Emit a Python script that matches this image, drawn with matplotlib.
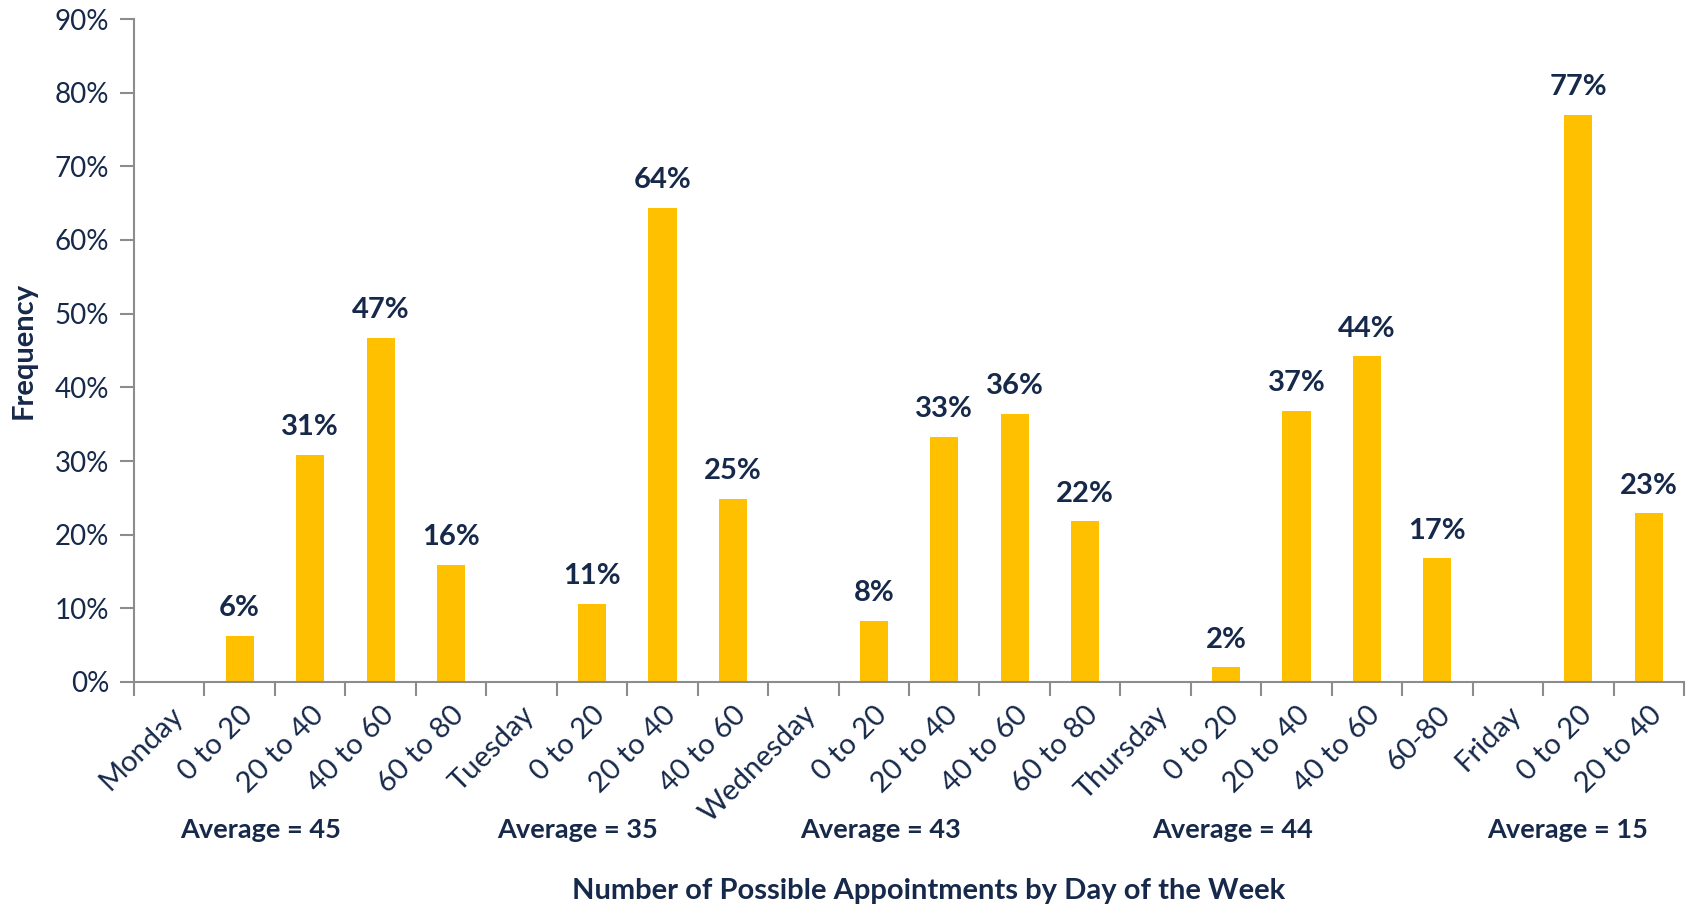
import numpy as np
import matplotlib.pyplot as plt
from matplotlib.transforms import blended_transform_factory

plt.rcParams['font.family'] = ['Lato', 'DejaVu Sans']

# 数据
categories = ['Monday', '0 to 20', '20 to 40', '40 to 60', '60 to 80',
              'Tuesday', '0 to 20', '20 to 40', '40 to 60',
              'Wednesday', '0 to 20', '20 to 40', '40 to 60', '60 to 80',
              'Thursday', '0 to 20', '20 to 40', '40 to 60', '60-80',
              'Friday', '0 to 20', '20 to 40']
values = [0, 6.3, 30.8, 46.7, 15.9,
          0, 10.6, 64.4, 24.9,
          0, 8.3, 33.3, 36.4, 21.8,
          0, 2.0, 36.8, 44.2, 16.8,
          0, 77.0, 22.9]
averages = ['Average = 45', 'Average = 35', 'Average = 43', 'Average = 44', 'Average = 15']
avg_pos = [1.3, 5.8, 10.1, 15.1, 19.85]

navy = '#16294A'
gold = '#FFC000'
gray = '#8C8C8C'

fig = plt.figure(figsize=(16.88, 9.09), dpi=100)
ax = fig.add_axes([134 / 1688, 1 - 682 / 909, 1550 / 1688, 663 / 909])

x = np.arange(len(categories))
ax.bar(x, values, width=0.4, color=gold)

for xi, v in zip(x, values):
    if v > 0:
        ax.text(xi, v + 2.0, f'{round(v)}%', ha='center', va='bottom',
                fontsize=21, fontweight='bold', color=navy)

ax.set_xlim(-0.5, len(categories) - 0.5)
ax.set_ylim(0, 90)
ax.set_yticks(np.arange(0, 91, 10))
ax.set_yticklabels([f'{t}%' for t in range(0, 91, 10)], fontsize=20, color=navy)

ax.set_xticks(x)
ax.set_xticklabels(categories, rotation=45, ha='right', rotation_mode='anchor',
                   fontsize=21, color=navy)
ax.set_xticks(np.arange(-0.5, len(categories), 1), minor=True)
ax.tick_params(axis='x', which='major', length=0, pad=14)
ax.tick_params(axis='x', which='minor', length=10, width=1.5, color=gray)
ax.tick_params(axis='y', length=10, width=1.5, color=gray, pad=8)

for s in ['top', 'right']:
    ax.spines[s].set_visible(False)
for s in ['left', 'bottom']:
    ax.spines[s].set_color(gray)
    ax.spines[s].set_linewidth(1.5)

trans = blended_transform_factory(ax.transData, fig.transFigure)
for p, a in zip(avg_pos, averages):
    ax.text(p, 1 - 830 / 909, a, transform=trans, ha='center', va='center',
            fontsize=19.5, fontweight='bold', color=navy)

fig.text(929 / 1688, 1 - 891 / 909, 'Number of Possible Appointments by Day of the Week',
         ha='center', va='center', fontsize=21, fontweight='bold', color=navy)
fig.text(24 / 1688, 1 - 350 / 909, 'Frequency', rotation=90,
         ha='center', va='center', fontsize=21, fontweight='bold', color=navy)

fig.savefig('out.png', dpi=100)
